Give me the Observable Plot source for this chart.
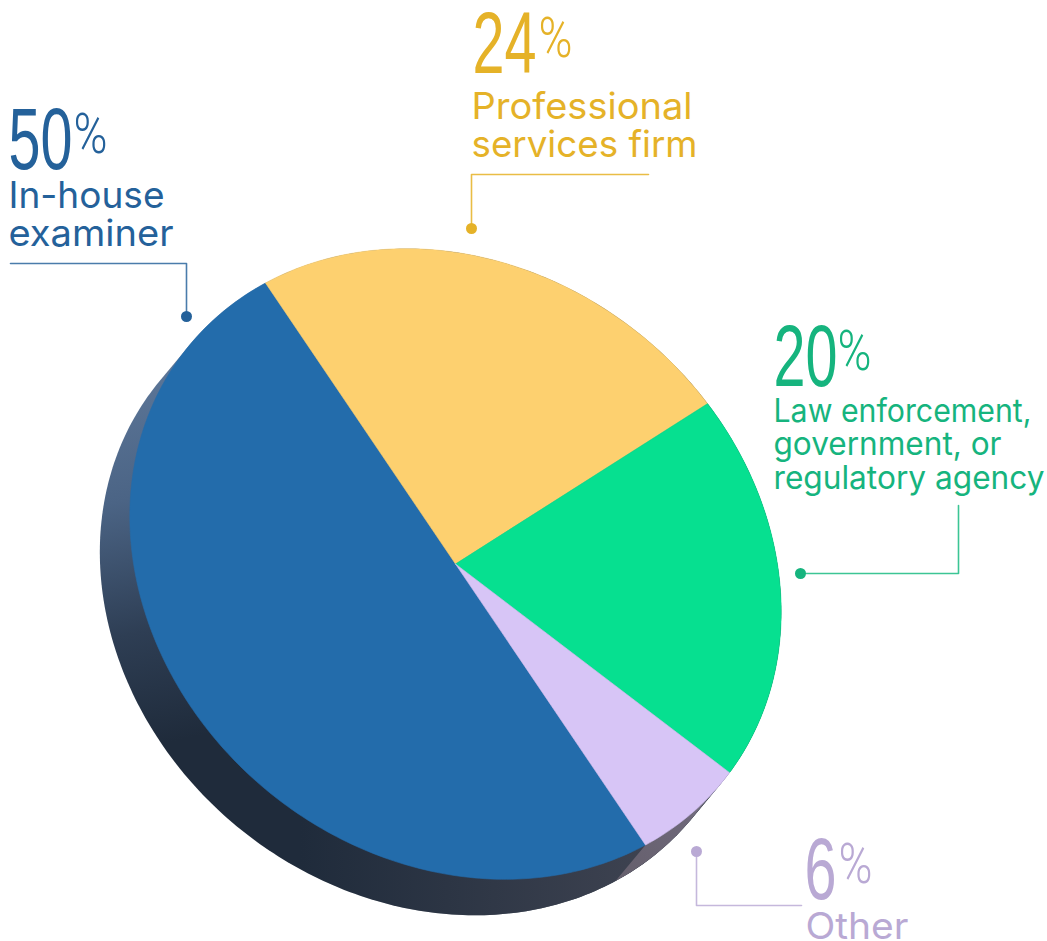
<!DOCTYPE html>
<html>
<head>
<meta charset="utf-8">
<script src="https://cdn.jsdelivr.net/npm/d3@7"></script>
<script src="https://cdn.jsdelivr.net/npm/@observablehq/plot@0.6"></script>
<style>
html,body{margin:0;padding:0;background:#fff;overflow:hidden}
svg{display:block}
</style>
</head>
<body>
<div id="chart"></div>
<script>
// ---- values
const categories = ["In-house examiner", "Professional services firm", "Law enforcement, government, or regulatory agency", "Other"];
const shares = [50, 24, 20, 6];
const labelLines = [["In-house", "examiner"], ["Professional", "services firm"], ["Law enforcement,", "government, or", "regulatory agency"], ["Other"]];

// ---- styles
const sliceColors = ["#236cab", "#fdd06f", "#06e090", "#d7c5f6"];
const textColors = ["#24619a", "#e5b228", "#16b47e", "#b9a9d4"];
const lineColors = ["#4a7cab", "#e9bd45", "#3cc595", "#c5b8dc"];

// ---- layout (in picture units)
const W = 1047, H = 941;
const center = [455, 563.5];
const axisA = [-190, -281];   // tilted disc: radius vector at the blue/yellow border
const axisB = [264.5, -143];  // its conjugate a quarter turn later
const depth = [-30, 36];      // extrusion of the disc
const numberPos = [[8, 168, 64], [472, 72, 64], [773, 385, 64], [804, 898, 32]];
const percentPos = [[73, 152], [538, 56], [837, 369], [838, 882]];
const labelPos = [[8, 207, 38], [471, 118.5, 37.5], [773, 421, 33.5], [805, 938, 0]];
const labelSizes = [37, 37, 32, 37];
const labelWidths = [[156, 165], [221, 226], [258, 228, 271], [103]];
const leaders = [
  [[10, 263], [186, 263], [186, 316]],
  [[648, 174], [471, 174], [471, 228]],
  [[958, 505], [958, 573], [800, 573]],
  [[801, 905], [696, 905], [696, 851]]
];

// ---- geometry derived from the shares
const disc = (t, off = [0, 0]) => ({
  x: center[0] + off[0] + axisA[0] * Math.cos(t) + axisB[0] * Math.sin(t),
  y: center[1] + off[1] + axisA[1] * Math.cos(t) + axisB[1] * Math.sin(t)
});
const arcs = d3.pie().sort(null).startAngle(-Math.PI).endAngle(Math.PI)(shares);
const arcPoints = (a, off) => {
  const n = Math.max(8, Math.ceil((a.endAngle - a.startAngle) * 60));
  return d3.range(n + 1).map(i => disc(a.startAngle + (a.endAngle - a.startAngle) * i / n, off));
};
const slices = arcs.map(a => [{x: center[0], y: center[1]}, ...arcPoints(a), {x: center[0], y: center[1]}]);
const full = {startAngle: 0, endAngle: 2 * Math.PI};
const hull = d3.polygonHull([...arcPoints(full), ...arcPoints(full, depth)].map(p => [p.x, p.y])).map(([x, y]) => ({x, y}));
hull.push(hull[0]);
const sideOther = [...arcPoints(arcs[3]), ...arcPoints(arcs[3], depth).reverse()];

const gradients = () => {
  const defs = d3.create("svg:defs");
  const mk = (id, c, stops) => {
    const g = defs.append("linearGradient").attr("id", id).attr("gradientUnits", "userSpaceOnUse")
      .attr("x1", c[0]).attr("y1", c[1]).attr("x2", c[2]).attr("y2", c[3]);
    stops.forEach(([o, col, a]) => g.append("stop").attr("offset", o).attr("stop-color", col).attr("stop-opacity", a ?? 1));
  };
  mk("sideGrad", [150, 360, 225, 730], [[0, "#5d7799"], [0.35, "#4b6485"], [0.7, "#2e3e54"], [1, "#1f2b3b"]]);
  mk("sideLight", [300, 0, 640, 0], [[0, "#3d4250", 0], [1, "#3d4250", 1]]);
  mk("sideOther", [612, 880, 725, 771], [[0, "#655f6c"], [0.6, "#6d6778"], [1, "#8a8398"]]);
  return defs.node();
};

const textMarks = [];
shares.forEach((s, i) => {
  textMarks.push(Plot.text([`${s}`], {
    x: () => numberPos[i][0], y: () => numberPos[i][1], text: d => d, textAnchor: "start", lineAnchor: "bottom",
    fontFamily: "Liberation Sans", fontSize: 87, fill: textColors[i], className: "num",
  }));
  textMarks.push(Plot.text(["%"], {
    x: () => percentPos[i][0], y: () => percentPos[i][1], text: d => d, textAnchor: "start", lineAnchor: "bottom",
    fontFamily: "Roboto", fontWeight: 300, fontSize: 56, fill: textColors[i], className: "pct",
  }));
  labelLines[i].forEach((line, j) => {
    textMarks.push(Plot.text([line], {
      x: () => labelPos[i][0], y: () => labelPos[i][1] + j * labelPos[i][2], text: d => d, textAnchor: "start", lineAnchor: "bottom",
      fontFamily: "Inter", fontSize: labelSizes[i], fill: textColors[i], className: `lab lab-${i}-${j}`,
    }));
  });
});

const chart = Plot.plot({
  width: W, height: H, margin: 0,
  x: {domain: [0, W], range: [0, W], axis: null},
  y: {domain: [0, H], range: [0, H], axis: null},
  style: {background: "#fff"},
  marks: [
    gradients,
    Plot.line(hull, {x: "x", y: "y", fill: "url(#sideGrad)", stroke: "none"}),
    Plot.line(hull, {x: "x", y: "y", fill: "url(#sideLight)", stroke: "none"}),
    Plot.line(sideOther, {x: "x", y: "y", fill: "url(#sideOther)", stroke: "none"}),
    ...slices.map((pts, i) => Plot.line(pts, {x: "x", y: "y", fill: sliceColors[i], stroke: sliceColors[i], strokeWidth: 0.6})),
    ...leaders.map((pts, i) => Plot.line(pts, {x: p => p[0], y: p => p[1], stroke: lineColors[i], strokeWidth: 1.6, curve: "linear"})),
    ...leaders.map((pts, i) => Plot.dot([pts[2]], {x: p => p[0], y: p => p[1], r: 5.5, fill: textColors[i], stroke: "none"})),
    ...textMarks
  ]
});
document.getElementById("chart").append(chart);

// condense the display figures to the reference's widths
const sel = d3.select(chart);
const fit = (cls, len, adj) => sel.selectAll(`${cls} text`).attr("textLength", len).attr("lengthAdjust", adj);
sel.selectAll(".num text").each(function (_, i) {
  d3.select(this).attr("textLength", numberPos[i][2]).attr("lengthAdjust", "spacingAndGlyphs");
});
fit(".pct", 34, "spacingAndGlyphs");
labelLines.forEach((ls, i) => ls.forEach((_, j) => fit(`.lab-${i}-${j}`, labelWidths[i][j], "spacingAndGlyphs")));
</script>
</body>
</html>
